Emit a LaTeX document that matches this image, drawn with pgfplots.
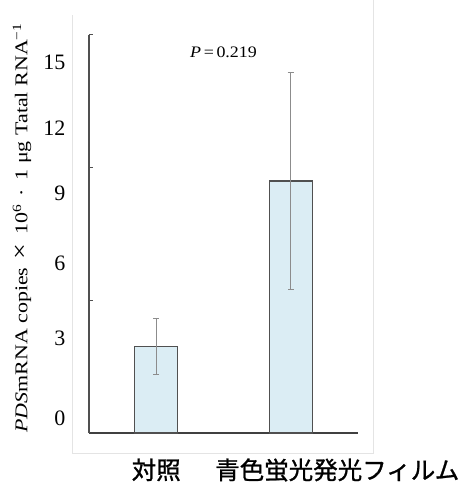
\documentclass[border=0pt]{standalone}
\usepackage{pgfplots}
\pgfplotsset{compat=1.18}
\usepackage{fontspec}
\setmainfont{Liberation Serif}
\newfontfamily\lblfont[FakeStretch=1.22]{Liberation Serif}
\newfontfamily\pfont[FakeStretch=1.12]{Liberation Serif}
\newfontfamily\cjk[FakeBold=1]{Noto Sans CJK JP}
\definecolor{barfill}{RGB}{219,237,244}
\definecolor{baredge}{RGB}{80,80,80}
\definecolor{errc}{RGB}{140,140,140}
\definecolor{framec}{RGB}{228,228,228}
\begin{document}
\begin{tikzpicture}
\useasboundingbox (-89pt,-49pt) rectangle (376pt,433pt);
\begin{axis}[
  at={(0,0)}, anchor=south west,
  scale only axis, width=269pt, height=398pt,
  xmin=-0.5, xmax=1.5, ymin=0, ymax=15,
  axis x line*=bottom, axis y line*=left,
  axis line style={baredge, line width=1.3pt},
  x axis line style={-, line width=1.8pt, draw=black!75},
  y axis line style={-},
  xtick={0,1},
  xticklabels={{\cjk 対照},{\hspace*{93pt}\cjk 青色蛍光発光フィルム}},
  xticklabel style={font=\fontsize{24.5}{24.5}\selectfont, yshift=-22pt},
  major tick length=0pt,
  ytick={0.565,3.58,6.41,9.05,11.5,13.98},
  yticklabels={0,3,6,9,12,15},
  yticklabel style={font=\fontsize{22}{22}\selectfont, anchor=east, xshift=-20pt},
  /pgf/number format/assume math mode=true,
  extra y ticks={5,10,15},
  extra y tick labels={},
  extra y tick style={major tick length=4pt, tick align=inside, tick style={draw=baredge, line width=1pt}},
  ylabel={\lblfont\textit{PDS}mRNA copies \,{\fontsize{23}{23}\selectfont ×}\, 10\textsuperscript{6} \,·\, 1 μg Tatal RNA\textsuperscript{−1}},
  ylabel style={at={(axis description cs:-0.249,0.515)}, anchor=center, font=\fontsize{18}{18}\selectfont},
  clip=false,
]
\draw[framec, line width=1pt] (axis cs:-0.619,15.76) -- (axis cs:-0.619,-0.754) -- (axis cs:1.616,-0.754) -- (axis cs:1.616,16.32);
\addplot[ybar, bar width=0.32, fill=barfill, draw=baredge, line width=1.2pt,
  error bars/.cd, y dir=both, y explicit,
  error bar style={errc, line width=1.1pt},
  error mark options={errc, line width=1.1pt, rotate=90, mark size=3pt}]
  coordinates {(0,3.25) +- (0,1.05) (1,9.5) +- (0,4.1)};
\node[font=\fontsize{16}{16}\selectfont\pfont] at (axis cs:0.5,14.36) {\textit{P}\,=\,0.219};
\end{axis}
\end{tikzpicture}
\end{document}
